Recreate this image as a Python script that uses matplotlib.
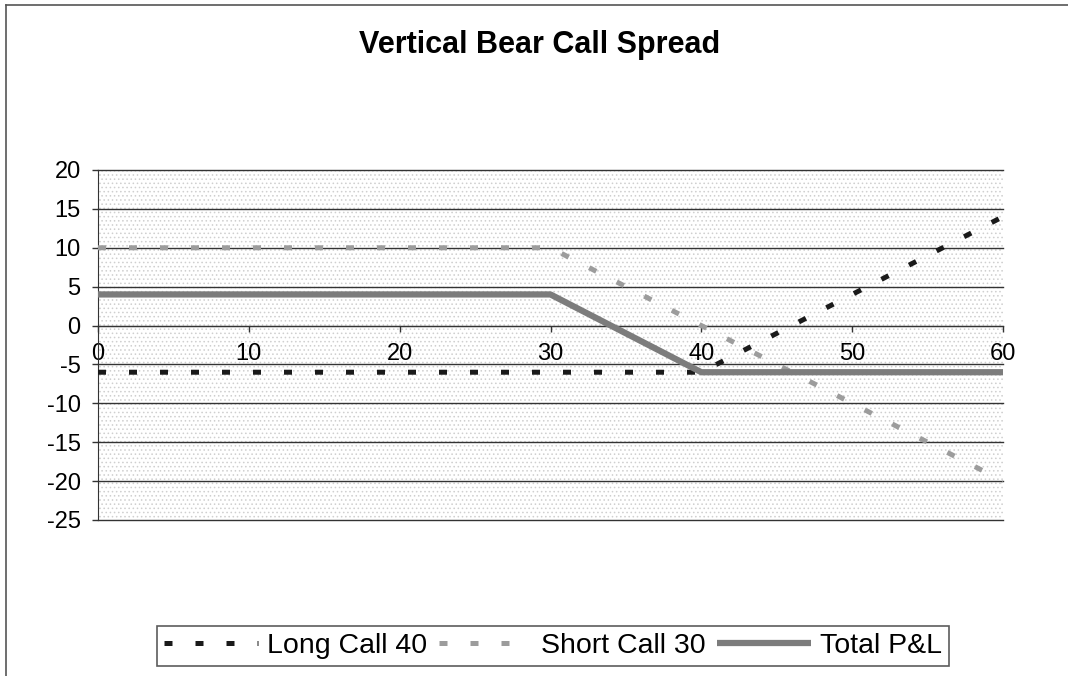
import matplotlib
matplotlib.use("Agg")
import matplotlib.pyplot as plt
from matplotlib.lines import Line2D
from matplotlib.patches import Rectangle

# —— data —— #
price = [0, 5, 10, 15, 20, 25, 30, 35, 40, 45, 50, 55, 60]
long_call_40 = [-6, -6, -6, -6, -6, -6, -6, -6, -6, -1, 4, 9, 14]
short_call_30 = [10, 10, 10, 10, 10, 10, 10, 5, 0, -5, -10, -15, -20]
total_pl = [4, 4, 4, 4, 4, 4, 4, -1, -6, -6, -6, -6, -6]

x_ticks = [0, 10, 20, 30, 40, 50, 60]
y_ticks = [-25, -20, -15, -10, -5, 0, 5, 10, 15, 20]

plt.rcParams['font.family'] = ['Liberation Sans', 'DejaVu Sans']
plt.rcParams['axes.unicode_minus'] = False
plt.rcParams['hatch.linewidth'] = 0.6

fig = plt.figure(figsize=(10.68, 6.76), dpi=100)
ax = fig.add_axes([98/1068, 1-520/676, 905/1068, 350/676])

# dotted plot area
ax.patch.set_facecolor('white')
ax.add_patch(Rectangle((0, 0), 1, 1, transform=ax.transAxes, facecolor='white',
                       edgecolor='#cfcfcf', linewidth=0, hatch='....', zorder=0))

ax.plot(price, long_call_40, color='#1a1a1a', lw=3.6,
        linestyle=(0, (1.6, 4.6)), dash_capstyle='butt',
        label='Long Call 40', zorder=3)
ax.plot(price, short_call_30, color='#9c9c9c', lw=3.6,
        linestyle=(0, (1.6, 4.6)), dash_capstyle='butt',
        label='Short Call 30', zorder=3)
ax.plot(price, total_pl, color='#7c7c7c', lw=4.5, solid_capstyle='butt',
        label='Total P&L', zorder=4)

ax.set_xlim(0, 60)
ax.set_ylim(-25, 20)
ax.set_xticks(x_ticks)
ax.set_yticks(y_ticks)
ax.yaxis.grid(True, color='#333333', lw=1)
ax.set_axisbelow(True)
for gl in ax.get_ygridlines():
    gl.set_clip_on(False)

ax.spines['top'].set_visible(False)
ax.spines['right'].set_visible(False)
ax.spines['bottom'].set_position(('data', 0))
ax.spines['bottom'].set_color('#333333')
ax.spines['left'].set_color('#333333')
ax.tick_params(axis='x', direction='out', length=4.5, width=1, color='#333333',
               labelsize=17, pad=8)
ax.tick_params(axis='y', direction='out', length=4.5, width=1, color='#333333',
               labelsize=17, pad=8)
for lbl in ax.get_xticklabels():
    lbl.set_zorder(5)

fig.text(540/1068, 1-45/676, 'Vertical Bear Call Spread', ha='center', va='center',
         fontsize=22, fontweight='bold')

# chart area border (top and left visible)
fig.add_artist(Line2D([6/1068, 6/1068], [0, 1-5/676], transform=fig.transFigure,
                      color='#555555', lw=1.2))
fig.add_artist(Line2D([6/1068, 1], [1-5/676, 1-5/676], transform=fig.transFigure,
                      color='#555555', lw=1.2))

leg = ax.legend(loc='center', bbox_to_anchor=(553/1068, 1-646/676),
                bbox_transform=fig.transFigure, ncol=3, fontsize=20.5,
                frameon=True, fancybox=False, edgecolor='#333333',
                handlelength=3.3, handletextpad=0.3, columnspacing=0.4,
                borderpad=0.25, borderaxespad=0)
leg.get_frame().set_linewidth(1.2)

fig.savefig('out.png', dpi=100)
